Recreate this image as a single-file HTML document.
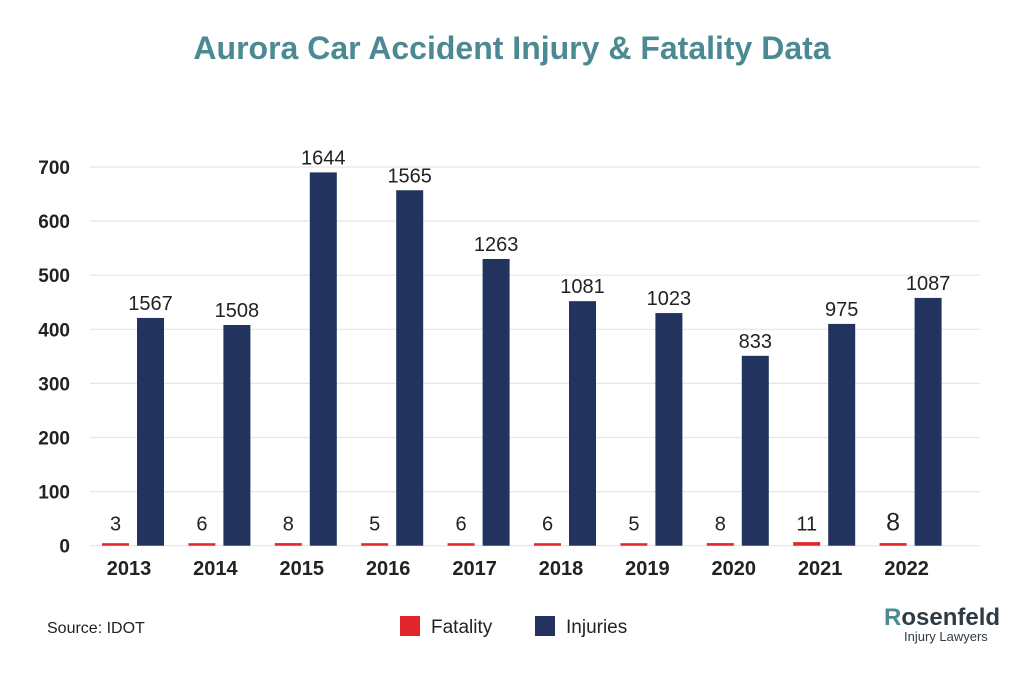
<!DOCTYPE html>
<html><head><meta charset="utf-8">
<style>
body{margin:0;background:#fff;font-family:"Liberation Sans",sans-serif;}
svg{display:block}
</style></head>
<body>
<svg width="1024" height="675" viewBox="0 0 1024 675">
<text x="512" y="59" text-anchor="middle" font-size="32" font-weight="bold" fill="#4c8a93">Aurora Car Accident Injury &amp; Fatality Data</text>
<g id="grid"></g>
<g id="bars"></g>
<text x="47" y="633" font-size="16" fill="#222">Source: IDOT</text>
<g>
<rect x="400" y="616" width="20" height="20" fill="#e0262b"/>
<text x="431" y="633" font-size="19" fill="#222">Fatality</text>
<rect x="535" y="616" width="20" height="20" fill="#22335e"/>
<text x="566" y="633" font-size="19" fill="#222">Injuries</text>
</g>
<g>
<text x="884" y="625" font-size="24" font-weight="bold" fill="#2e3a44"><tspan fill="#4c8a93">R</tspan>osenfeld</text>
<text x="904" y="641" font-size="13" fill="#2e3a44">Injury Lawyers</text>
</g>
</svg>
<script>
const years=['2013','2014','2015','2016','2017','2018','2019','2020','2021','2022'];
const fatalities=[3,6,8,5,6,6,5,8,11,8];
const injuryHeights=[421,408,690,657,530,452,430,351,410,458];
const injuryLabels=['1567','1508','1644','1565','1263','1081','1023','833','975','1087'];
const ticks=[0,100,200,300,400,500,600,700];

const NS='http://www.w3.org/2000/svg';
const y0=545.7, pxPer=0.541;
function yScale(v){return y0-v*pxPer;}
function xGroup(i){return 102+i*86.4;}
function mk(tag,attrs,parent,txt){const e=document.createElementNS(NS,tag);for(const k in attrs)e.setAttribute(k,attrs[k]);if(txt!==undefined)e.textContent=txt;parent.appendChild(e);return e;}
const grid=document.getElementById('grid'), bars=document.getElementById('bars');
ticks.forEach(t=>{
  const l=mk('line',{x1:90,x2:980,y1:yScale(t),y2:yScale(t),stroke:'#e6e6e6','stroke-width':1.2},grid);
  
  
  const tx=mk('text',{x:70,y:yScale(t)+7,'text-anchor':'end','font-size':19,'font-weight':'bold',fill:'#222'},grid,String(t));
  
  
});
years.forEach((yr,i)=>{
  const x=xGroup(i);
  const fh=Math.max(fatalities[i]*pxPer*0.6,2.5);
  const fb=mk('rect',{x:x,y:y0-fh,width:27,height:fh,fill:'#e0262b'},bars);
  
  
  const fl=mk('text',{x:x+13.5,y:y0-15,'text-anchor':'middle','font-size':i==9?25:20,fill:'#222'},bars,String(fatalities[i]));
  
  
  const top=yScale(injuryHeights[i]);
  const ib=mk('rect',{x:x+35,y:top,width:27,height:y0-top,fill:'#22335e'},bars);
  
  
  const il=mk('text',{x:x+48.5,y:top-8,'text-anchor':'middle','font-size':20,fill:'#222'},bars,injuryLabels[i]);
  
  
  const xl=mk('text',{x:x+27,y:575,'text-anchor':'middle','font-size':20,'font-weight':'bold',fill:'#222'},bars,yr);
  
  
});
</script>
</body></html>
